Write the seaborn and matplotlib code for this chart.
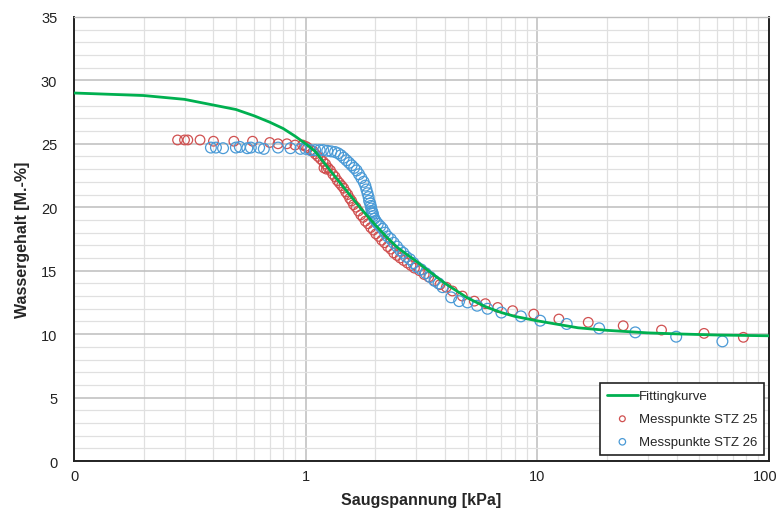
import numpy as np
import pandas as pd
import matplotlib
matplotlib.use("Agg")
import matplotlib.pyplot as plt
import matplotlib.transforms as mtransforms
import seaborn as sns
from matplotlib.ticker import FixedLocator, NullFormatter

# ---- data ----
fit_x = [0.1, 0.2, 0.3, 0.4, 0.5, 0.6, 0.7, 0.8, 0.9, 1.0, 1.1, 1.25, 1.5, 1.75, 2.0,
         2.25, 2.5, 2.75, 3.0, 3.5, 4.0, 5.0, 6.0, 7.0, 8.0, 10, 12, 15, 20, 30, 40, 60, 100]
fit_y = [29.0, 28.8, 28.5, 28.05, 27.7, 27.2, 26.7, 26.2, 25.6, 25.0, 24.4, 23.1, 21.3, 19.8, 18.6,
         17.6, 16.8, 16.25, 15.75, 14.8, 14.0, 12.85, 12.15, 11.7, 11.4, 11.05, 10.8, 10.5, 10.3, 10.1,
         10.02, 9.93, 9.87]

stz25_x = [0.28, 0.30, 0.31, 0.35, 0.40, 0.49, 0.59, 0.70, 0.76, 0.83, 0.90, 0.97, 1.0,
           1.02, 1.05, 1.08, 1.10, 1.13, 1.16, 1.19, 1.22, 1.25, 1.28, 1.31, 1.34, 1.37, 1.40,
           1.43, 1.46, 1.49, 1.52, 1.55, 1.58, 1.61, 1.65, 1.69, 1.73, 1.77, 1.81, 1.86, 1.91,
           1.96, 2.01, 2.07, 2.13, 2.19, 2.26, 2.33, 2.40, 2.48, 2.56, 2.65, 2.75, 2.85, 2.95,
           3.10, 3.25, 3.40, 3.60, 3.80, 4.05, 4.30,
           4.75, 5.35, 5.97, 6.75, 7.83, 9.66, 12.4, 16.6, 23.5, 34.4, 52.5, 77.6,
           1.20, 1.23]
stz25_y = [25.3, 25.3, 25.3, 25.3, 25.2, 25.2, 25.2, 25.1, 25.0, 25.0, 24.9, 24.9, 24.8,
           24.7, 24.5, 24.4, 24.2, 24.0, 23.8, 23.6, 23.4, 23.1, 22.9, 22.6, 22.4, 22.1, 21.9,
           21.7, 21.5, 21.2, 21.0, 20.7, 20.5, 20.2, 20.0, 19.7, 19.4, 19.2, 18.9, 18.7, 18.4,
           18.2, 17.9, 17.7, 17.4, 17.2, 16.9, 16.7, 16.4, 16.2, 16.0, 15.8, 15.6, 15.4, 15.2,
           15.0, 14.7, 14.5, 14.2, 13.9, 13.7, 13.4,
           13.0, 12.6, 12.4, 12.1, 11.85, 11.58, 11.19, 10.93, 10.66, 10.32, 10.06, 9.75,
           23.1, 23.0]

stz26_x = [0.39, 0.41, 0.44, 0.50, 0.52, 0.56, 0.58, 0.63, 0.66, 0.76, 0.86, 0.95, 1.0,
           1.05, 1.10, 1.15, 1.19, 1.24, 1.29, 1.34, 1.38, 1.42, 1.46, 1.50, 1.54, 1.58,
           1.62, 1.66, 1.70, 1.74, 1.78, 1.81, 1.83, 1.85, 1.87, 1.88, 1.90, 1.91, 1.92,
           1.93, 1.94, 1.95, 1.96, 1.98, 2.01, 2.05, 2.10, 2.15, 2.20, 2.26, 2.33, 2.40,
           2.48, 2.56, 2.64, 2.72, 2.82, 2.92, 3.02, 3.15, 3.30, 3.45, 3.60, 3.75, 3.90,
           4.25, 4.60, 5.0, 5.5, 6.1, 7.0, 8.5, 10.3, 13.4, 18.5, 26.5, 39.8, 63.0]
stz26_y = [24.7, 24.7, 24.65, 24.7, 24.75, 24.65, 24.7, 24.7, 24.6, 24.7, 24.65, 24.6, 24.6,
           24.5, 24.5, 24.5, 24.5, 24.45, 24.4, 24.35, 24.25, 24.1, 23.9, 23.7, 23.5, 23.3,
           23.1, 22.9, 22.6, 22.3, 22.0, 21.7, 21.4, 21.1, 20.8, 20.5, 20.3, 20.1, 19.9,
           19.7, 19.6, 19.5, 19.3, 19.1, 18.9, 18.7, 18.5, 18.3, 18.0, 17.7, 17.5, 17.2,
           16.9, 16.6, 16.4, 16.1, 15.9, 15.6, 15.3, 15.1, 14.8, 14.5, 14.2, 14.0, 13.7,
           12.9, 12.6, 12.5, 12.24, 12.0, 11.7, 11.4, 11.06, 10.8, 10.46, 10.14, 9.8, 9.43]

xticks = [0.1, 1, 10, 100]
xticklabels = ["0", "1", "10", "100"]
yticks = [0, 5, 10, 15, 20, 25, 30, 35]

# ---- style ----
sns.set_style("white")
plt.rcParams["font.family"] = ["Liberation Sans", "DejaVu Sans"]

green = "#00b050"
red = "#d05050"
blue = "#4a9ad6"

fig = plt.figure(figsize=(7.79, 5.10), dpi=100)
ax = fig.add_axes([0.095, 0.094, 0.892, 0.871])

fit_df = pd.DataFrame({"x": fit_x, "y": fit_y})
d25 = pd.DataFrame({"x": stz25_x, "y": stz25_y})
d26 = pd.DataFrame({"x": stz26_x, "y": stz26_y})

ax.set_xscale("log")
ax.set_xlim(0.1, 100)
ax.set_ylim(0, 35)

# grid
ax.yaxis.set_minor_locator(FixedLocator(np.arange(0, 36, 1)))
ax.xaxis.set_minor_locator(FixedLocator([m * d for d in [0.1, 1, 10] for m in range(2, 10)]))
ax.xaxis.set_minor_formatter(NullFormatter())
ax.grid(which="minor", color="#e0e0e0", linewidth=0.9)
ax.grid(which="major", color="#bdbdbd", linewidth=1.1)
ax.set_axisbelow(True)

sns.scatterplot(data=d25, x="x", y="y", ax=ax, marker="o", s=48,
                facecolor="none", edgecolor=red, linewidth=0.9,
                label="Messpunkte STZ 25", zorder=3)
sns.scatterplot(data=d26, x="x", y="y", ax=ax, marker="o", s=60,
                facecolor="none", edgecolor=blue, linewidth=0.9,
                label="Messpunkte STZ 26", zorder=3)
sns.lineplot(data=fit_df, x="x", y="y", ax=ax, color=green, linewidth=2.0,
             label="Fittingkurve", zorder=4)

ax.set_xticks(xticks)
ax.set_xticklabels(xticklabels)
ax.set_yticks(yticks)
ax.tick_params(which="both", length=0, labelsize=10.5, colors="#222222")
ax.tick_params(axis="x", pad=6)
ax.tick_params(axis="y", pad=12)

# keep the last x label inside the canvas
last = ax.get_xticklabels()[-1]
last.set_transform(last.get_transform() + mtransforms.ScaledTranslation(-4 / 100, 0, fig.dpi_scale_trans))

ax.set_xlabel("Saugspannung [kPa]", fontsize=11.5, fontweight="bold", labelpad=6)
ax.set_ylabel("Wassergehalt [M.-%]", fontsize=11.5, fontweight="bold", labelpad=8)

for side in ["left", "bottom", "right"]:
    ax.spines[side].set_color("#222222")
    ax.spines[side].set_linewidth(1.4)
ax.spines["top"].set_color("#bdbdbd")
ax.spines["top"].set_linewidth(1.0)

handles, labels = ax.get_legend_handles_labels()
order = [labels.index("Fittingkurve"), labels.index("Messpunkte STZ 25"), labels.index("Messpunkte STZ 26")]
leg = ax.legend([handles[i] for i in order], [labels[i] for i in order],
                loc="lower right", bbox_to_anchor=(0.997, 0.008), fontsize=9.5,
                frameon=True, fancybox=False, edgecolor="#222222", framealpha=1,
                markerscale=0.6, handlelength=2.35, handletextpad=0.1,
                borderpad=0.5, borderaxespad=0.2, labelspacing=0.82)
leg.get_frame().set_linewidth(1.2)

fig.savefig("out.png", dpi=100)
